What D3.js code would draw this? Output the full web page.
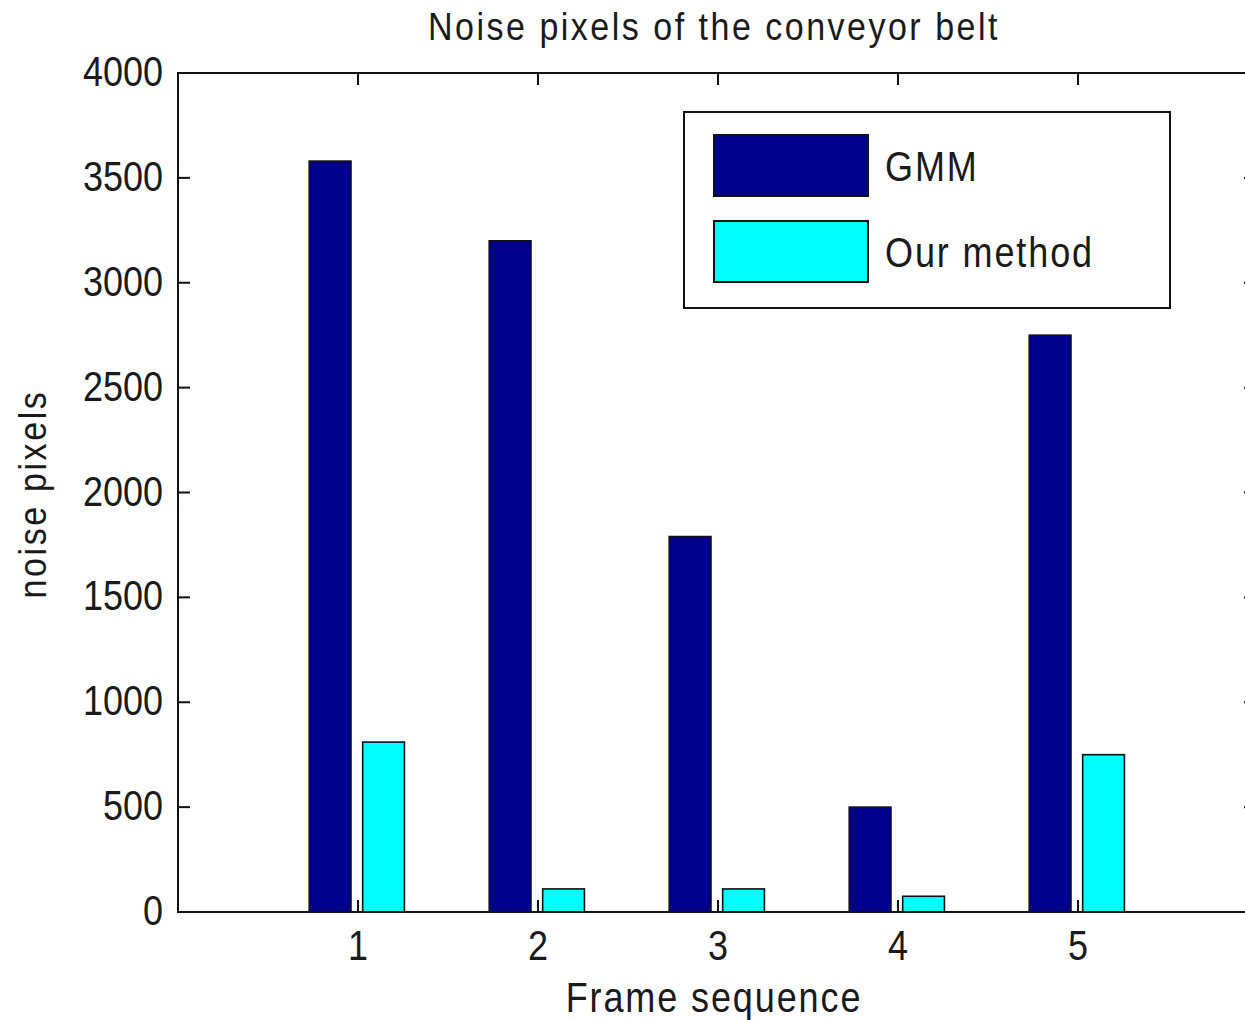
<!DOCTYPE html>
<html><head><meta charset="utf-8">
<script src="https://cdn.jsdelivr.net/npm/d3@7"></script>
<style>body{margin:0;background:#fff}text{font-family:"Liberation Sans",Arial,sans-serif;fill:#1a1a1a}</style>
</head><body>
<svg id="c" width="1245" height="1020"></svg>
<script>
const categories = [1, 2, 3, 4, 5];
const gmmValues = [3580, 3200, 1790, 500, 2750];
const ourValues = [810, 110, 110, 75, 750];
const seriesNames = ["GMM", "Our method"];
const yTicks = [0, 500, 1000, 1500, 2000, 2500, 3000, 3500, 4000];
const colors = ["#00008f", "#00ffff"];

const svg = d3.select("#c");
const L = 178, R = 1258, T = 73, B = 912;
const x = d3.scaleLinear().domain([0, 6]).range([L, R]);
const y = d3.scaleLinear().domain([0, 4000]).range([B, T]);
const SY = 1.16;

function label(g, px, py, txt, size, anchor, rot, ls) {
  const t = g.append("g").attr("transform", `translate(${px},${py}) rotate(${rot||0}) scale(1,${SY})`);
  t.append("text").attr("text-anchor", anchor).attr("font-size", size)
    .attr("letter-spacing", ls || 0).text(txt);
}

// bars
const offs = [-0.155, 0.142], bw = 0.232;
[gmmValues, ourValues].forEach((vals, si) => {
  svg.append("g").selectAll("rect").data(vals).join("rect")
    .attr("x", (d, i) => x(categories[i] + offs[si] - bw / 2))
    .attr("width", x(bw) - x(0))
    .attr("y", d => y(d))
    .attr("height", d => y(0) - y(d))
    .attr("fill", colors[si]).attr("stroke", "#111").attr("stroke-width", 1.6);
});

// axes box
const ax = svg.append("g").attr("stroke", "#111").attr("stroke-width", 2).attr("fill", "none");
ax.append("rect").attr("x", L).attr("y", T).attr("width", R - L).attr("height", B - T);
categories.forEach(c => {
  ax.append("line").attr("x1", x(c)).attr("x2", x(c)).attr("y1", B).attr("y2", B - 12);
  ax.append("line").attr("x1", x(c)).attr("x2", x(c)).attr("y1", T).attr("y2", T + 12);
});
yTicks.forEach(v => {
  ax.append("line").attr("x1", L).attr("x2", L + 12).attr("y1", y(v)).attr("y2", y(v));
  ax.append("line").attr("x1", R).attr("x2", R - 14).attr("y1", y(v)).attr("y2", y(v));
});

const tg = svg.append("g");
yTicks.forEach(v => label(tg, 163, y(v) + 13, String(v), 36, "end"));
categories.forEach(c => label(tg, x(c), 960, String(c), 36, "middle"));

label(tg, 714, 40, "Noise pixels of the conveyor belt", 34, "middle", 0, 2.5);
label(tg, 714, 1012, "Frame sequence", 36, "middle", 0, 1.9);
label(tg, 46, 494, "noise pixels", 34, "middle", -90, 2.6);

// legend
const lg = svg.append("g");
lg.append("rect").attr("x", 684).attr("y", 112).attr("width", 486).attr("height", 196)
  .attr("fill", "#fff").attr("stroke", "#111").attr("stroke-width", 2);
seriesNames.forEach((n, i) => {
  lg.append("rect").attr("x", 714).attr("y", 135 + i * 86).attr("width", 154).attr("height", 61)
    .attr("fill", colors[i]).attr("stroke", "#111").attr("stroke-width", 2);
  label(lg, 885, 181 + i * 86, n, 36, "start", 0, 1.9);
});
</script>
</body></html>
